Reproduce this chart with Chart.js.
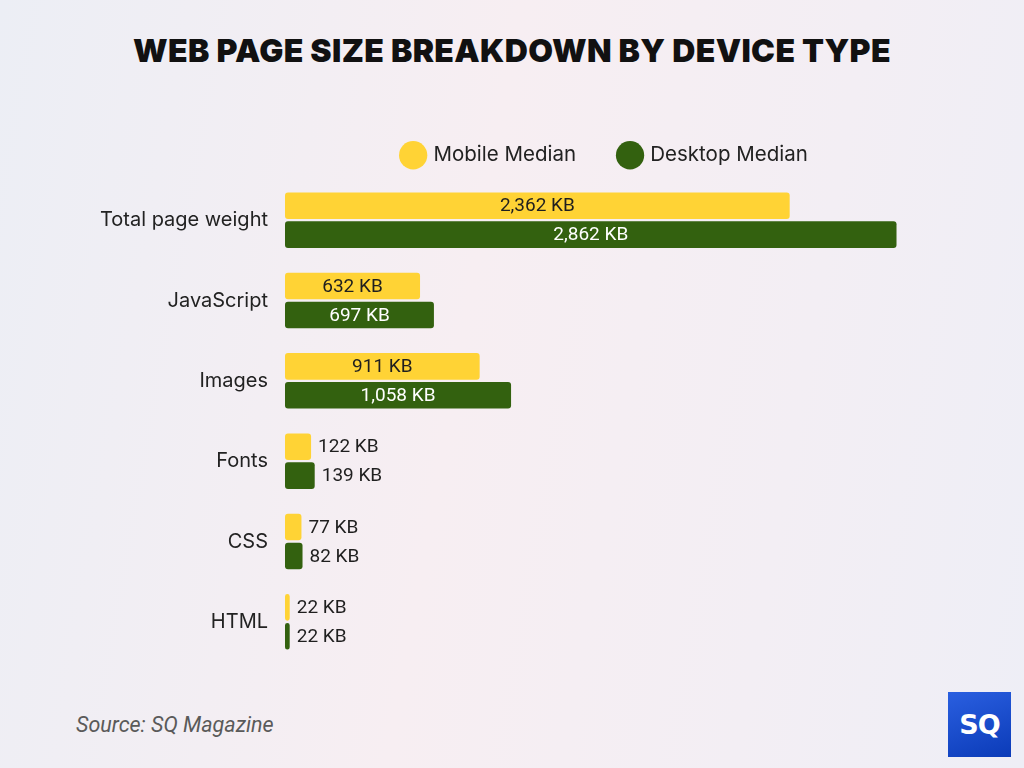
<!DOCTYPE html>
<html>
<head>
<meta charset="utf-8">
<script src="https://cdn.jsdelivr.net/npm/chart.js@4.4.1/dist/chart.umd.min.js"></script>
<style>
    html, body { margin: 0; padding: 0; }
    #page {
        position: relative; width: 1024px; height: 768px; overflow: hidden;
        background: linear-gradient(100deg, #eceef5 0%, #f7eef2 45%, #f3eef4 75%, #eeeef6 100%);
        font-family: Inter, "Noto Sans", sans-serif;
    }
    #title {
        position: absolute; left: 0; top: 31px; width: 1024px; text-align: center;
        font-family: Inter, sans-serif; font-weight: 900; font-size: 32px; color: #111;
        letter-spacing: 0.35px;
    }
    #chart-wrap { position: absolute; left: 0; top: 101px; width: 1024px; height: 582px; }
    #source {
        position: absolute; left: 76px; top: 712px; font-family: Roboto, sans-serif;
        font-style: italic; font-size: 21.5px; color: #5a5a5a;
    }
    #logo {
        position: absolute; left: 948px; top: 692px; width: 63px; height: 65px;
        background: linear-gradient(160deg, #2a5fe0, #0b3bb8);
        color: #fff; font-family: "DejaVu Sans", sans-serif; font-weight: bold; font-size: 27px;
        display: flex; align-items: center; justify-content: center; letter-spacing: -1px;
    }
</style>
</head>
<body>
<div id="page">
    <div id="title">WEB PAGE SIZE BREAKDOWN BY DEVICE TYPE</div>
    <div id="chart-wrap"><canvas id="chart"></canvas></div>
    <div id="source">Source: SQ Magazine</div>
    <div id="logo">SQ</div>
</div>
<script>
// 数据
const categories = ['Total page weight', 'JavaScript', 'Images', 'Fonts', 'CSS', 'HTML'];
const mobileMedian = [2362, 632, 911, 122, 77, 22];
const desktopMedian = [2862, 697, 1058, 139, 82, 22];
const seriesNames = ['Mobile Median', 'Desktop Median'];

const YELLOW = '#ffd335';
const GREEN = '#33610f';

// 数值标签：宽的放在条内居中，窄的放在条外
const valueLabels = {
    id: 'valueLabels',
    afterDatasetsDraw(chart) {
        const ctx = chart.ctx;
        ctx.save();
        ctx.font = '19px Roboto, sans-serif';
        ctx.textBaseline = 'middle';
        chart.data.datasets.forEach((ds, di) => {
            chart.getDatasetMeta(di).data.forEach((bar, i) => {
                const text = ds.data[i].toLocaleString('en-US') + ' KB';
                const w = ctx.measureText(text).width;
                const barW = bar.x - bar.base;
                if (barW > w + 20) {
                    ctx.textAlign = 'center';
                    ctx.fillStyle = di === 0 ? '#1f1f1f' : '#ffffff';
                    ctx.fillText(text, bar.base + barW / 2, bar.y + 1);
                } else {
                    ctx.textAlign = 'left';
                    ctx.fillStyle = '#1f1f1f';
                    ctx.fillText(text, bar.x + 7, bar.y + 1);
                }
            });
        });
        ctx.restore();
    }
};

// 图例高度固定，好让绘图区从 y=180 开始
const legendSpacing = {
    id: 'legendSpacing',
    afterInit(chart) {
        const fit = chart.legend.fit;
        chart.legend.fit = function () { fit.call(this); this.height = 79; };
    }
};

new Chart(document.getElementById('chart'), {
    type: 'bar',
    data: {
        labels: categories,
        datasets: [
            { label: seriesNames[0], data: mobileMedian, backgroundColor: YELLOW },
            { label: seriesNames[1], data: desktopMedian, backgroundColor: GREEN }
        ]
    },
    options: {
        indexAxis: 'y',
        responsive: true,
        maintainAspectRatio: false,
        animation: false,
        datasets: { bar: { categoryPercentage: 0.72, barPercentage: 0.92, borderRadius: 3, borderSkipped: false } },
        layout: { padding: { left: 0, right: 98, top: 0, bottom: 0 } },
        scales: {
            x: { display: false, min: 0, max: 3000 },
            y: {
                grid: { display: false }, border: { display: false },
                ticks: { color: '#222', padding: 9, font: { family: 'Inter, sans-serif', size: 20 } },
                afterFit(s) { s.width = 285; }
            }
        },
        plugins: {
            legend: {
                position: 'top', fullSize: false,
                labels: {
                    usePointStyle: true, pointStyle: 'circle', boxWidth: 20, boxHeight: 20,
                    padding: 44, color: '#222', font: { family: 'Inter, sans-serif', size: 20.5 }
                }
            },
            tooltip: { enabled: false }
        }
    },
    plugins: [valueLabels, legendSpacing]
});
</script>
</body>
</html>
